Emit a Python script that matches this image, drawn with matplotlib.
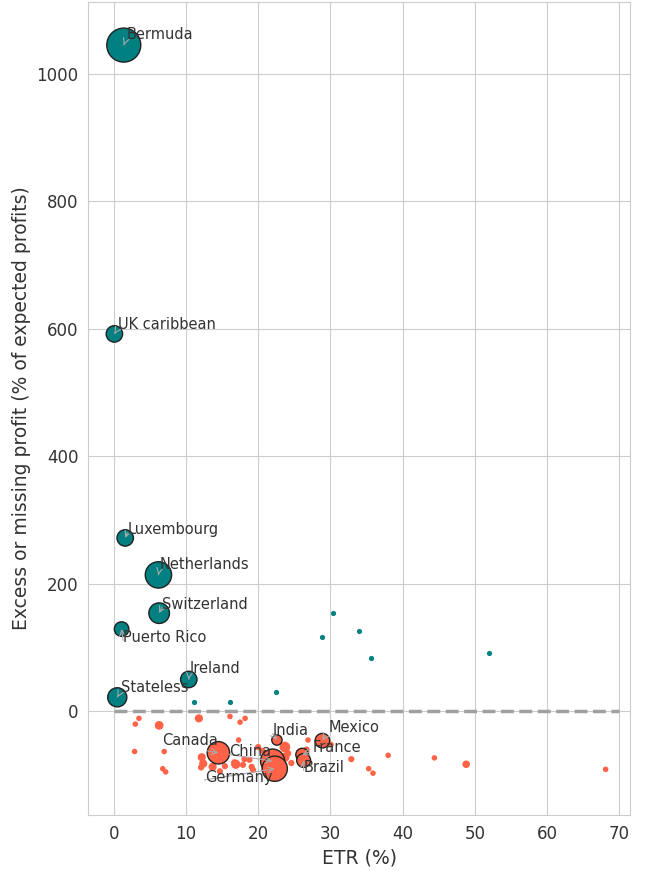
import numpy as np
import matplotlib
matplotlib.use('Agg')
import matplotlib.pyplot as plt
import seaborn as sns

sns.set_style('whitegrid')
plt.rcParams['font.family'] = ['DejaVu Sans']

# 避税天堂（有名字的点）
haven_names = ['Bermuda', 'UK caribbean', 'Luxembourg', 'Netherlands',
               'Switzerland', 'Puerto Rico', 'Ireland', 'Stateless']
haven_etr = [1.4, 0.1, 1.6, 6.2, 6.3, 1.1, 10.4, 0.5]
haven_profit = [1045, 592, 272, 214, 154, 129, 50, 22]
haven_size = [600, 140, 140, 360, 220, 110, 140, 190]
haven_text = [(1.8, 1062), (0.6, 606), (1.9, 285), (6.4, 231),
              (6.7, 168), (1.3, 116), (10.5, 67), (1.0, 37)]

# 其他正值小点
pos_etr = [30.3, 33.9, 28.9, 35.6, 51.9, 22.5, 11.1, 16.1]
pos_profit = [154, 126, 116, 83, 91, 30, 14, 14]

# 有名字的负值国家
big_names = ['Canada', 'China', 'Germany', 'India', 'Mexico', 'France', 'Brazil']
big_etr = [14.5, 22.0, 22.3, 22.6, 28.9, 26.1, 26.3]
big_profit = [-65, -78, -90, -45, -46, -68, -77]
big_size = [260, 300, 330, 55, 110, 85, 100]
big_text = [(6.7, -45), (16.0, -63), (12.6, -103), (22.0, -30),
            (29.8, -25), (27.6, -57), (26.3, -88)]

# 其他负值小点
neg_etr = [3.5, 3.0, 6.3, 11.8, 16.1, 17.5, 18.2, 2.9, 7.0, 6.8, 7.2, 17.3,
           12.2, 12.4, 13.7, 14.7, 15.4, 16.9, 17.9, 19.1, 18.8, 20.0, 19.3,
           18.1, 23.7, 23.7, 23.2, 24.6, 26.9, 26.7, 30.1, 32.9, 38.0, 35.3,
           35.9, 44.4, 48.8, 68.1, 12.1, 16.7, 24.1, 21.8, 20.6]
neg_profit = [-11, -20, -22, -11, -8, -17, -11, -63, -63, -90, -95, -45,
              -72, -82, -87, -94, -86, -83, -84, -87, -76, -56, -92,
              -75, -56, -72, -81, -81, -45, -60, -52, -75, -69, -90,
              -97, -73, -83, -91, -88, -80, -66, -70, -62]
neg_size = [16, 16, 40, 35, 16, 16, 16, 16, 16, 16, 16, 16,
            35, 35, 35, 20, 20, 45, 20, 20, 20, 20, 20,
            20, 60, 45, 20, 20, 16, 20, 16, 20, 16, 16,
            16, 16, 30, 16, 20, 20, 25, 25, 20]

teal = '#008080'
red = '#ff6347'

fig = plt.figure(figsize=(6.45, 8.71), dpi=100)
ax = fig.add_axes([0.137, 0.064, 0.840, 0.934])

ax.scatter(pos_etr, pos_profit, s=14, color=teal, lw=0, zorder=3)
ax.scatter(neg_etr, neg_profit, s=neg_size, color=red, lw=0, zorder=3)
ax.scatter(haven_etr, haven_profit, s=haven_size, color=teal,
           edgecolor='#222222', lw=1, zorder=4)
ax.scatter(big_etr, big_profit, s=big_size, color=red,
           edgecolor='#222222', lw=1, zorder=4)

ax.hlines(0, 0, 70, colors='#a0a0a0', linestyles='--', lw=2.5, zorder=2)

for name, x, y, (tx, ty) in zip(haven_names + big_names,
                                haven_etr + big_etr,
                                haven_profit + big_profit,
                                haven_text + big_text):
    ax.annotate(name, xy=(x, y), xytext=(tx, ty), fontsize=10.5, color='#333333',
                ha='left', va='center', zorder=5,
                arrowprops=dict(arrowstyle='->', color='#aaaaaa', lw=0.8,
                                relpos=(0, 0.3), shrinkA=0, shrinkB=0))

ax.set_xlim(-3.5, 71.5)
ax.set_ylim(-163, 1113)
ax.set_xticks(range(0, 80, 10))
ax.set_yticks([0, 200, 400, 600, 800, 1000])
ax.tick_params(labelsize=12, colors='#333333')
ax.set_xlabel('ETR (%)', fontsize=13.5, color='#333333')
ax.set_ylabel('Excess or missing profit (% of expected profits)', fontsize=13.5,
              color='#333333')

plt.savefig('out.png', dpi=100)
